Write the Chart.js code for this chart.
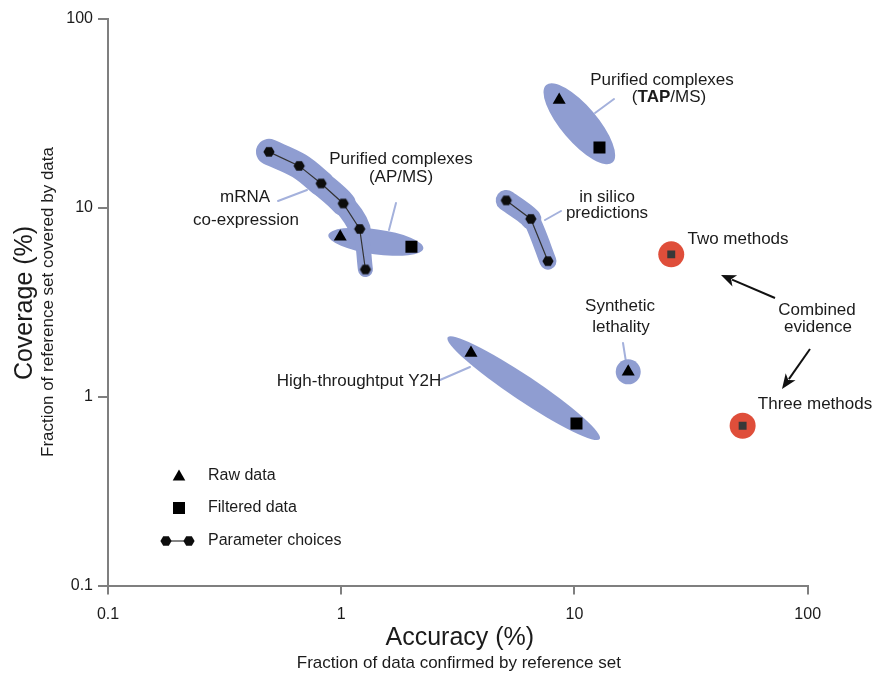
<!DOCTYPE html>
<html>
<head>
<meta charset="utf-8">
<script src="https://cdn.jsdelivr.net/npm/chart.js@4.4.1/dist/chart.umd.min.js"></script>
<style>
  html, body { margin: 0; padding: 0; background: #ffffff; }
  canvas { display: block; }
</style>
</head>
<body>
<canvas id="chart" width="874" height="675"></canvas>
<script>
// ---- data (percent) -------------------------------------------------------
const tickValues = [0.1, 1, 10, 100];

// mRNA co-expression, one point per parameter choice
const mrnaAccuracy = [0.49, 0.66, 0.82, 1.02, 1.2, 1.27];
const mrnaCoverage = [19.7, 16.6, 13.4, 10.5, 7.7, 4.7];

// in silico predictions, one point per parameter choice
const silicoAccuracy = [5.1, 6.5, 7.7];
const silicoCoverage = [10.9, 8.7, 5.2];

// methods with raw and filtered data sets
const methodNames = ['AP/MS', 'TAP/MS', 'Y2H', 'Synthetic lethality'];
const rawAccuracy = [0.99, 8.6, 3.6, 17.0];
const rawCoverage = [7.0, 37.0, 1.7, 1.35];
const filteredAccuracy = [2.0, 12.8, 10.2, null];
const filteredCoverage = [6.2, 20.8, 0.72, null];

// combined evidence
const combinedNames = ['Two methods', 'Three methods'];
const combinedAccuracy = [26.0, 52.6];
const combinedCoverage = [5.65, 0.70];

// ---- styling ----------------------------------------------------------------
const FONT = "'Liberation Sans', Arial, Helvetica, sans-serif";
const BLUE = '#8f9dd1';
const LEADER = '#a4b1dc';
const RED = '#df4e3a';
const AXIS = '#7f7f7f';
const INK = '#1b1b1b';

const bandWidths = { mrna: [26, 26, 25, 22, 15], silico: [21, 17] };
// ellipse around raw/filtered pair of a method: extra length beyond the marks, half thickness
const ellipseShape = { 0: { pad: 12, minor: 12.5 }, 1: { pad: 20, minor: 18 }, 2: { pad: 28, minor: 12.5 } };

// label layout (canvas pixels)
const labels = [
  { t: 'Purified complexes', x: 662, y: 80 },
  { t: '(TAP/MS)', x: 669, y: 97, boldPart: 'TAP' },
  { t: 'Purified complexes', x: 401, y: 159 },
  { t: '(AP/MS)', x: 401, y: 177 },
  { t: 'mRNA', x: 245, y: 197 },
  { t: 'co-expression', x: 246, y: 220 },
  { t: 'in silico', x: 607, y: 197 },
  { t: 'predictions', x: 607, y: 213 },
  { t: 'Two methods', x: 738, y: 239 },
  { t: 'Combined', x: 817, y: 310 },
  { t: 'evidence', x: 818, y: 327 },
  { t: 'Synthetic', x: 620, y: 306 },
  { t: 'lethality', x: 621, y: 327 },
  { t: 'High-throughtput Y2H', x: 359, y: 381 },
  { t: 'Three methods', x: 815, y: 404 }
];
const leaders = [
  [278, 201, 307, 190],
  [389, 230, 396, 203],
  [595, 113, 614, 99],
  [545, 220, 561, 211],
  [623, 343, 626, 362],
  [440, 380, 470, 367]
];
const arrows = [
  [775, 298, 721, 275],
  [810, 349, 782, 389]
];

// ---- helpers ----------------------------------------------------------------
function makeHexagon(r, color) {
  const c = document.createElement('canvas');
  const s = Math.ceil(r * 2 + 2);
  c.width = s; c.height = s;
  const g = c.getContext('2d');
  g.fillStyle = color;
  g.beginPath();
  for (let k = 0; k < 6; k++) {
    const a = Math.PI / 3 * k;
    const px = s / 2 + r * Math.cos(a), py = s / 2 + r * Math.sin(a);
    if (k) g.lineTo(px, py); else g.moveTo(px, py);
  }
  g.closePath();
  g.fill();
  return c;
}
const hexMark = makeHexagon(5.6, '#0d0d0d');

const toPoints = (xs, ys) =>
  xs.map((x, i) => ({ x, y: ys[i] })).filter(p => p.x != null && p.y != null);

function drawArrow(ctx, x1, y1, x2, y2) {
  const ang = Math.atan2(y2 - y1, x2 - x1);
  const head = 15, half = 6;
  const bx = x2 - head * Math.cos(ang), by = y2 - head * Math.sin(ang);
  ctx.strokeStyle = '#111'; ctx.lineWidth = 2;
  ctx.beginPath(); ctx.moveTo(x1, y1); ctx.lineTo(bx + 3 * Math.cos(ang), by + 3 * Math.sin(ang)); ctx.stroke();
  ctx.fillStyle = '#111';
  ctx.beginPath();
  ctx.moveTo(x2, y2);
  ctx.lineTo(bx + half * Math.sin(ang), by - half * Math.cos(ang));
  ctx.lineTo(bx + 4 * Math.cos(ang), by + 4 * Math.sin(ang));
  ctx.lineTo(bx - half * Math.sin(ang), by + half * Math.cos(ang));
  ctx.closePath();
  ctx.fill();
}

function drawLabel(ctx, item) {
  ctx.fillStyle = INK;
  ctx.textBaseline = 'middle';
  if (!item.boldPart) {
    ctx.font = `17px ${FONT}`;
    ctx.textAlign = 'center';
    ctx.fillText(item.t, item.x, item.y);
    return;
  }
  const i = item.t.indexOf(item.boldPart);
  const parts = [
    [item.t.slice(0, i), `17px ${FONT}`],
    [item.boldPart, `bold 17px ${FONT}`],
    [item.t.slice(i + item.boldPart.length), `17px ${FONT}`]
  ];
  let total = 0;
  parts.forEach(p => { ctx.font = p[1]; total += ctx.measureText(p[0]).width; });
  let x = item.x - total / 2;
  ctx.textAlign = 'left';
  parts.forEach(p => { ctx.font = p[1]; ctx.fillText(p[0], x, item.y); x += ctx.measureText(p[0]).width; });
}

// ---- plugins ----------------------------------------------------------------
const underlayPlugin = {
  id: 'underlay',
  beforeDatasetsDraw(chart) {
    const { ctx, scales: { x, y } } = chart;
    ctx.save();
    // leader lines from labels to groups
    ctx.strokeStyle = LEADER; ctx.lineWidth = 2; ctx.lineCap = 'round';
    leaders.forEach(l => { ctx.beginPath(); ctx.moveTo(l[0], l[1]); ctx.lineTo(l[2], l[3]); ctx.stroke(); });
    // ellipses spanning raw -> filtered of each method
    ctx.fillStyle = BLUE;
    Object.keys(ellipseShape).forEach(k => {
      const i = +k;
      const x1 = x.getPixelForValue(rawAccuracy[i]), y1 = y.getPixelForValue(rawCoverage[i]);
      const x2 = x.getPixelForValue(filteredAccuracy[i]), y2 = y.getPixelForValue(filteredCoverage[i]);
      const cx = (x1 + x2) / 2, cy = (y1 + y2) / 2;
      const half = Math.hypot(x2 - x1, y2 - y1) / 2 + ellipseShape[k].pad;
      ctx.beginPath();
      ctx.ellipse(cx, cy, half, ellipseShape[k].minor, Math.atan2(y2 - y1, x2 - x1), 0, Math.PI * 2);
      ctx.fill();
    });
    ctx.restore();
  },
  afterDraw(chart) {
    const { ctx, chartArea } = chart;
    ctx.save();
    labels.forEach(l => drawLabel(ctx, l));
    arrows.forEach(a => drawArrow(ctx, a[0], a[1], a[2], a[3]));

    // legend
    ctx.fillStyle = '#000';
    const lx = 179;
    ctx.beginPath();
    ctx.moveTo(lx, 469.5); ctx.lineTo(lx + 6.3, 480.5); ctx.lineTo(lx - 6.3, 480.5); ctx.closePath(); ctx.fill();
    ctx.fillRect(lx - 6, 502, 12, 12);
    ctx.strokeStyle = '#333'; ctx.lineWidth = 1.2;
    ctx.beginPath(); ctx.moveTo(166, 541); ctx.lineTo(189, 541); ctx.stroke();
    ctx.drawImage(hexMark, 166 - hexMark.width / 2, 541 - hexMark.height / 2);
    ctx.drawImage(hexMark, 189 - hexMark.width / 2, 541 - hexMark.height / 2);
    ctx.fillStyle = INK; ctx.font = `16px ${FONT}`; ctx.textAlign = 'left'; ctx.textBaseline = 'middle';
    ctx.fillText('Raw data', 208, 476);
    ctx.fillText('Filtered data', 208, 508);
    ctx.fillText('Parameter choices', 208, 541);

    // axis titles
    const cxm = (chartArea.left + chartArea.right) / 2;
    ctx.textAlign = 'center';
    ctx.font = `25px ${FONT}`;
    ctx.fillText('Accuracy (%)', cxm + 2, 638);
    ctx.font = `17px ${FONT}`;
    ctx.fillText('Fraction of data confirmed by reference set', cxm + 1, 663);
    ctx.save();
    ctx.translate(25, 303);
    ctx.rotate(-Math.PI / 2);
    ctx.font = `25px ${FONT}`;
    ctx.fillText('Coverage (%)', 0, 0);
    ctx.restore();
    ctx.save();
    ctx.translate(48, 302);
    ctx.rotate(-Math.PI / 2);
    ctx.font = `17px ${FONT}`;
    ctx.fillText('Fraction of reference set covered by data', 0, 0);
    ctx.restore();
    ctx.restore();
  }
};

// ---- chart ------------------------------------------------------------------
const logAxis = (fit) => ({
  type: 'logarithmic',
  min: 0.1,
  max: 100,
  afterBuildTicks: s => { s.ticks = tickValues.map(v => ({ value: v })); },
  afterFit: fit,
  grid: { drawOnChartArea: false, drawTicks: true, tickLength: 10, color: AXIS, lineWidth: 2 },
  border: { display: true, color: AXIS, width: 2 },
  ticks: {
    autoSkip: false, maxRotation: 0, color: INK,
    font: { family: FONT, size: 16 },
    callback: v => String(v)
  }
});

const xAxis = logAxis(s => { s.height = 675 - 585.5; });
xAxis.ticks.padding = 10;
xAxis.grid.tickLength = 9;
const yAxis = logAxis(s => { s.width = 108; });
yAxis.ticks.padding = 5;

new Chart(document.getElementById('chart'), {
  type: 'scatter',
  data: {
    datasets: [
      // point marks (drawn on top)
      { data: toPoints(rawAccuracy, rawCoverage), pointStyle: 'triangle', pointRadius: 7.5,
        backgroundColor: '#000', borderWidth: 0, pointBorderWidth: 0, order: 0 },
      { data: toPoints(filteredAccuracy, filteredCoverage), pointStyle: 'rect', pointRadius: 8.5,
        backgroundColor: '#000', borderWidth: 0, pointBorderWidth: 0, order: 0 },
      { data: toPoints(combinedAccuracy, combinedCoverage), pointStyle: 'rect', pointRadius: 5.6,
        backgroundColor: '#383838', borderWidth: 0, pointBorderWidth: 0, order: 0 },
      // parameter-choice chains
      { data: toPoints(mrnaAccuracy, mrnaCoverage), showLine: true, borderColor: '#333', borderWidth: 1.2,
        pointStyle: hexMark, pointRadius: 6, tension: 0, order: 1 },
      { data: toPoints(silicoAccuracy, silicoCoverage), showLine: true, borderColor: '#333', borderWidth: 1.2,
        pointStyle: hexMark, pointRadius: 6, tension: 0, order: 1 },
      // halos
      { data: toPoints(combinedAccuracy, combinedCoverage), pointStyle: 'circle', pointRadius: 13,
        backgroundColor: RED, borderWidth: 0, pointBorderWidth: 0, order: 5 },
      { data: toPoints(rawAccuracy.slice(3), rawCoverage.slice(3)), pointStyle: 'circle', pointRadius: 12.5,
        backgroundColor: BLUE, borderWidth: 0, pointBorderWidth: 0, order: 5 },
      // bands behind the parameter chains
      { data: toPoints(mrnaAccuracy, mrnaCoverage), showLine: true, borderColor: BLUE, borderWidth: 26,
        tension: 0.35, borderCapStyle: 'round', borderJoinStyle: 'round', pointRadius: 0,
        segment: { borderWidth: c => bandWidths.mrna[c.p0DataIndex] }, order: 10 },
      { data: toPoints(silicoAccuracy, silicoCoverage), showLine: true, borderColor: BLUE, borderWidth: 21,
        tension: 0.2, borderCapStyle: 'round', borderJoinStyle: 'round', pointRadius: 0,
        segment: { borderWidth: c => bandWidths.silico[c.p0DataIndex] }, order: 10 }
    ]
  },
  options: {
    responsive: false,
    animation: false,
    events: [],
    layout: { padding: { left: 0, right: 874 - 807.7, top: 18.5, bottom: 0 } },
    plugins: { legend: { display: false }, tooltip: { enabled: false } },
    scales: { x: xAxis, y: yAxis }
  },
  plugins: [underlayPlugin]
});
</script>
</body>
</html>
